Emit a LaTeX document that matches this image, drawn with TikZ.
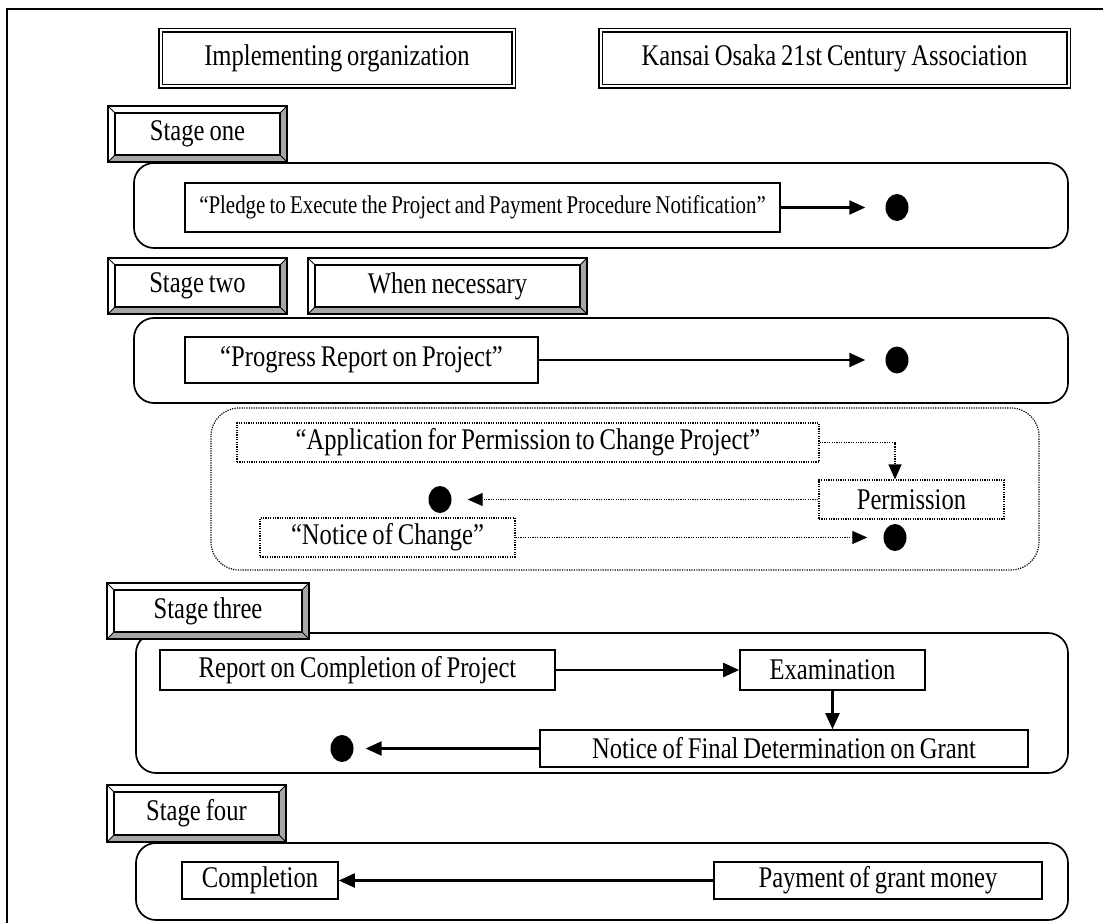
\documentclass[tikz,border=0pt]{standalone}
\usepackage{fontspec}
\setmainfont{Liberation Serif}[FakeStretch=0.82, WordSpace=0.8]
\usetikzlibrary{arrows.meta,shapes.geometric}

\tikzset{
  titlebox/.style={draw, double, double distance=2pt, line width=1.8pt, inner sep=0pt},
  stagebox/.style={draw, fill=white, line width=1.4pt, inner sep=0pt,
    path picture={
      \fill[gray!70] (path picture bounding box.north east) -- (path picture bounding box.south east)
        -- (path picture bounding box.south west) -- ([shift={(7pt,7pt)}]path picture bounding box.south west)
        -- ([shift={(-7pt,7pt)}]path picture bounding box.south east) -- ([shift={(-7pt,-7pt)}]path picture bounding box.north east) -- cycle;
      \draw[line width=1.2pt] ([shift={(7pt,-7pt)}]path picture bounding box.north west) rectangle ([shift={(-7pt,7pt)}]path picture bounding box.south east);
      \draw[line width=0.8pt] (path picture bounding box.north west) -- ++(7pt,-7pt);
      \draw[line width=0.8pt] (path picture bounding box.north east) -- ++(-7pt,-7pt);
      \draw[line width=0.8pt] (path picture bounding box.south west) -- ++(7pt,7pt);
      \draw[line width=0.8pt] (path picture bounding box.south east) -- ++(-7pt,7pt);
    }},
  itembox/.style={draw, fill=white, line width=1.6pt, inner sep=0pt},
  optbox/.style={draw, line width=1.2pt, dash pattern=on 1.2pt off 1.2pt, inner sep=0pt},
  bullet/.style={ellipse, fill=black, minimum width=23pt, minimum height=27pt, inner sep=0pt},
  flow/.style={-{Triangle[length=16pt,width=14pt]}, line width=2.3pt},
  optflow/.style={-{Triangle[length=15pt,width=13pt]}, line width=1.2pt, dash pattern=on 1.2pt off 1.2pt},
  panel/.style={draw, line width=1.7pt, rounded corners=20pt}
}

\begin{document}
\begin{tikzpicture}[x=1pt, y=-1pt, every node/.style={font=\fontsize{30pt}{32pt}\selectfont}]
    \useasboundingbox (0,0) rectangle (1103,923);

    % outer frame
    \draw[line width=1.8pt] (1103,9) -- (7,9) -- (7,923);

    % stage panels
    \draw[panel] (134,163) rectangle (1068,248);
    \draw[panel] (134,318) rectangle (1068,403);
    \draw[panel, line width=1.2pt, dash pattern=on 1.2pt off 1.2pt, rounded corners=28pt] (211,408) rectangle (1039,570);
    \draw[panel] (136,633) rectangle (1068,773);
    \draw[panel] (136,843) rectangle (1068,920);

    % headings
    \node[titlebox, minimum width=353pt, minimum height=56pt] (impl) at (337,58.5) {Implementing organization};
    \node[titlebox, minimum width=468pt, minimum height=56pt] (assoc) at (834.5,58.5) {Kansai Osaka 21st Century Association};

    % stage one
    \node[stagebox, minimum width=179pt, minimum height=56pt] (s1) at (197.5,134) {Stage one};
    \node[itembox, minimum width=595pt, minimum height=49pt, font=\fontsize{25.5pt}{27pt}\selectfont] (pledge) at (482.5,207.5) {“Pledge to Execute the Project and Payment Procedure Notification”};
    \node[bullet] (d1) at (897,207.5) {};
    \draw[flow, shorten >=20pt] (pledge) -- (d1);

    % stage two
    \node[stagebox, minimum width=179pt, minimum height=56pt] (s2) at (197.5,286) {Stage two};
    \node[stagebox, minimum width=279pt, minimum height=56pt] (need) at (447.5,286) {When necessary};
    \node[itembox, minimum width=353pt, minimum height=46pt] (progress) at (361.5,360) {“Progress Report on Project”};
    \node[bullet] (d2) at (897,360) {};
    \draw[flow, shorten >=20pt] (progress) -- (d2);

    % changes (dotted)
    \node[optbox, minimum width=582pt, minimum height=39pt] (apply) at (528,442.5) {“Application for Permission to Change Project”};
    \node[optbox, minimum width=185pt, minimum height=39pt] (perm) at (911.5,499.5) {Permission};
    \node[optbox, minimum width=255pt, minimum height=39pt] (change) at (387.5,537.5) {“Notice of Change”};
    \node[bullet] (d3) at (440,499.5) {};
    \node[bullet] (d4) at (895,537.5) {};
    \coordinate (kink) at (895,442.5);
    \draw[optflow] (apply.east) -- (kink) -- (kink |- perm.north);
    \draw[optflow, shorten >=16pt] (perm) -- (d3);
    \draw[optflow, shorten >=16pt] (change) -- (d4);

    % stage three
    \node[stagebox, minimum width=202pt, minimum height=56pt] (s3) at (208,611) {Stage three};
    \node[itembox, minimum width=395pt, minimum height=40pt] (report) at (357.5,670) {Report on Completion of Project};
    \node[itembox, minimum width=185pt, minimum height=40pt] (exam) at (832.5,670) {Examination};
    \node[itembox, minimum width=488pt, minimum height=37pt] (final) at (784,748.5) {Notice of Final Determination on Grant};
    \node[bullet] (d5) at (342,748.5) {};
    \draw[flow] (report) -- (exam);
    \draw[flow] (exam) -- (exam |- final.north);
    \draw[flow, shorten >=12pt] (final) -- (d5);

    % stage four
    \node[stagebox, minimum width=179pt, minimum height=57pt] (s4) at (196.5,813.5) {Stage four};
    \node[itembox, minimum width=156pt, minimum height=37pt] (done) at (260,880.5) {Completion};
    \node[itembox, minimum width=328pt, minimum height=37pt] (pay) at (878,880.5) {Payment of grant money};
    \draw[flow] (pay) -- (done);
\end{tikzpicture}
\end{document}
